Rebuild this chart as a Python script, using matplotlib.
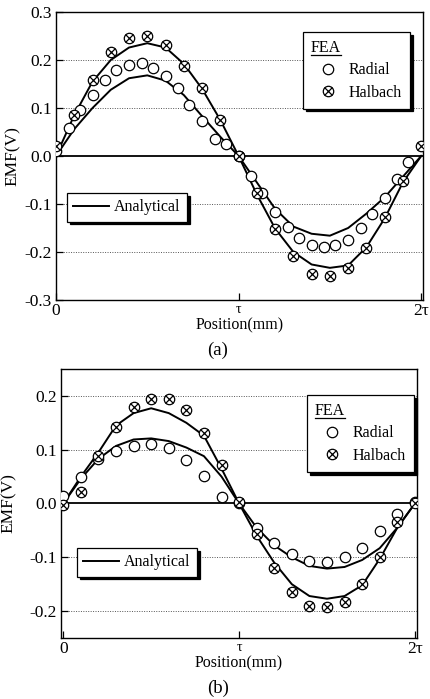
import numpy as np
import matplotlib
matplotlib.use("Agg")
import matplotlib.pyplot as plt
from matplotlib.lines import Line2D

plt.rcParams['font.family'] = ['Liberation Serif', 'DejaVu Serif']
plt.rcParams['mathtext.fontset'] = 'stix'

# ---------------- data (position in units of tau) ----------------
# (a)
a_rad_x = [0.00, 0.07, 0.13, 0.20, 0.27, 0.33, 0.40, 0.47, 0.53, 0.60,
           0.67, 0.73, 0.80, 0.87, 0.93, 1.00, 1.07, 1.13, 1.20, 1.27,
           1.33, 1.40, 1.47, 1.53, 1.60, 1.67, 1.73, 1.80, 1.87, 1.93]
a_rad_y = [0.010, 0.059, 0.096, 0.128, 0.159, 0.179, 0.190, 0.193, 0.184, 0.166,
           0.141, 0.107, 0.073, 0.036, 0.024, -0.001, -0.041, -0.078, -0.116, -0.148,
           -0.171, -0.186, -0.190, -0.186, -0.174, -0.150, -0.121, -0.088, -0.048, -0.012]
a_hal_x = [0.0, 0.1, 0.2, 0.3, 0.4, 0.5, 0.6, 0.7, 0.8, 0.9, 1.0,
           1.1, 1.2, 1.3, 1.4, 1.5, 1.6, 1.7, 1.8, 1.9, 2.0]
a_hal_y = [0.021, 0.085, 0.159, 0.216, 0.245, 0.250, 0.232, 0.188, 0.141, 0.074, -0.001,
           -0.078, -0.152, -0.208, -0.245, -0.250, -0.234, -0.192, -0.128, -0.052, 0.021]
a_ana_x = [0.0, 0.1, 0.2, 0.3, 0.4, 0.5, 0.6, 0.7, 0.8, 0.9, 1.0,
           1.1, 1.2, 1.3, 1.4, 1.5, 1.6, 1.7, 1.8, 1.9, 2.0]
a_ana_rad = [0.0, 0.056, 0.100, 0.138, 0.162, 0.168, 0.157, 0.127, 0.083, 0.040, 0.0,
             -0.055, -0.110, -0.147, -0.162, -0.166, -0.150, -0.120, -0.086, -0.043, 0.0]
a_ana_hal = [0.0, 0.085, 0.155, 0.200, 0.226, 0.235, 0.226, 0.192, 0.140, 0.075, 0.0,
             -0.080, -0.151, -0.200, -0.226, -0.233, -0.228, -0.190, -0.130, -0.055, 0.0]

# (b)
b_x = [0.0, 0.1, 0.2, 0.3, 0.4, 0.5, 0.6, 0.7, 0.8, 0.9, 1.0,
       1.1, 1.2, 1.3, 1.4, 1.5, 1.6, 1.7, 1.8, 1.9, 2.0]
b_rad_y = [0.014, 0.050, 0.083, 0.098, 0.107, 0.110, 0.103, 0.081, 0.052, 0.012, 0.0,
           -0.045, -0.074, -0.094, -0.107, -0.108, -0.100, -0.082, -0.052, -0.020, 0.002]
b_hal_y = [-0.002, 0.022, 0.088, 0.142, 0.179, 0.194, 0.194, 0.174, 0.131, 0.072, 0.003,
           -0.057, -0.119, -0.164, -0.190, -0.193, -0.184, -0.150, -0.099, -0.035, 0.0]
b_ana_rad = [0.0, 0.046, 0.083, 0.107, 0.119, 0.121, 0.116, 0.104, 0.088, 0.050, 0.0,
             -0.045, -0.078, -0.100, -0.116, -0.121, -0.118, -0.105, -0.083, -0.045, 0.0]
b_ana_hal = [0.0, 0.050, 0.095, 0.145, 0.168, 0.177, 0.168, 0.150, 0.126, 0.065, 0.0,
             -0.060, -0.110, -0.150, -0.172, -0.177, -0.172, -0.152, -0.103, -0.045, 0.0]

xtick_pos = [0, 1, 2]
xtick_labels = ['0', 'τ', '2τ']
a_yticks = [-0.3, -0.2, -0.1, 0.0, 0.1, 0.2, 0.3]
b_yticks = [-0.2, -0.1, 0.0, 0.1, 0.2]

W, H = 430, 699
fig = plt.figure(figsize=(W / 100, H / 100), dpi=100)


def fpos(l, r, t, b):
    return [l / W, 1 - b / H, (r - l) / W, (b - t) / H]


ax1 = fig.add_axes(fpos(56, 423, 12, 300))
ax2 = fig.add_axes(fpos(61, 417, 369, 638))

MS = 7.5
LFS = 11.5


def draw(ax, rx, ry, hx, hy, axx, arad, ahal, yticks, ylim, xlim,
         fea_anchor, ana_anchor):
    for yt in yticks:
        if abs(yt) < 1e-9:
            ax.axhline(0, color='black', lw=1.3, zorder=1)
        else:
            ax.axhline(yt, color='#555555', lw=0.7, ls=(0, (1, 1.5)), zorder=0)
    la, = ax.plot(axx, arad, color='black', lw=1.4, zorder=3)
    ax.plot(axx, ahal, color='black', lw=1.4, zorder=3)
    hr, = ax.plot(rx, ry, ls='none', marker='o', ms=MS, mfc='white',
                  mec='black', mew=0.9, zorder=4)
    hc, = ax.plot(hx, hy, ls='none', marker='o', ms=MS, mfc='white',
                  mec='black', mew=0.9, zorder=4)
    hxm, = ax.plot(hx, hy, ls='none', marker='x', ms=MS * 0.72,
                   mec='black', mew=0.9, zorder=5)
    ax.set_xlim(*xlim)
    ax.set_ylim(*ylim)
    ax.set_yticks(yticks)
    ax.set_yticklabels(['%.1f' % v for v in yticks])
    ax.set_xticks(xtick_pos)
    ax.set_xticklabels(xtick_labels)
    ax.tick_params(axis='both', direction='in', length=5, width=0.9,
                   labelsize=12.5, pad=3)
    ax.tick_params(axis='x', pad=2)
    ax.get_xticklabels()[1].set_fontsize(10)
    for s in ax.spines.values():
        s.set_linewidth(1.0)
    ax.set_xlabel('Position(mm)', fontsize=11.5, labelpad=-1)
    ax.set_ylabel('EMF(V)', fontsize=12.5, labelpad=3)

    leg1 = ax.legend([hr, (hc, hxm)], ['Radial', 'Halbach'], title='FEA',
                     loc='upper left', bbox_to_anchor=fea_anchor,
                     borderaxespad=0, fancybox=False, framealpha=1,
                     edgecolor='black', fontsize=LFS, title_fontsize=LFS,
                     alignment='left', handlelength=2.1, handletextpad=0.25,
                     labelspacing=0.4, borderpad=0.5,
                     shadow={'color': 'black', 'alpha': 1})
    leg1.get_frame().set_linewidth(0.9)
    ax.add_artist(leg1)
    leg2 = ax.legend([la], ['Analytical'], loc='upper left',
                     bbox_to_anchor=ana_anchor, borderaxespad=0,
                     fancybox=False, framealpha=1, edgecolor='black',
                     fontsize=LFS, handlelength=2.25, handletextpad=0.3,
                     borderpad=0.4,
                     shadow={'color': 'black', 'alpha': 1})
    leg2.get_frame().set_linewidth(0.9)
    return leg1


leg_a = draw(ax1, a_rad_x, a_rad_y, a_hal_x, a_hal_y, a_ana_x, a_ana_rad,
             a_ana_hal, a_yticks, (-0.3, 0.3), (0, 2.01),
             (0.673, 0.931), (0.03, 0.372))
leg_b = draw(ax2, b_x, b_rad_y, b_x, b_hal_y, b_x, b_ana_rad, b_ana_hal,
             b_yticks, (-0.25, 0.25), (-0.013, 2.012),
             (0.691, 0.903), (0.045, 0.335))

ax1.yaxis.set_label_coords(-0.095, 0.5)
ax2.yaxis.set_label_coords(-0.125, 0.5)

fig.text(0.507, 1 - 350 / H, '(a)', ha='center', va='center', fontsize=13.5)
fig.text(0.507, 1 - 688 / H, '(b)', ha='center', va='center', fontsize=13.5)

# underline legend titles
fig.canvas.draw()
r = fig.canvas.get_renderer()
for leg in (leg_a, leg_b):
    bb = leg.get_title().get_window_extent(r)
    y = bb.y0 + 1
    fig.add_artist(Line2D([bb.x0 / W, bb.x1 / W], [y / H, y / H],
                          color='black', lw=0.9))

fig.savefig('out.png', dpi=100)
